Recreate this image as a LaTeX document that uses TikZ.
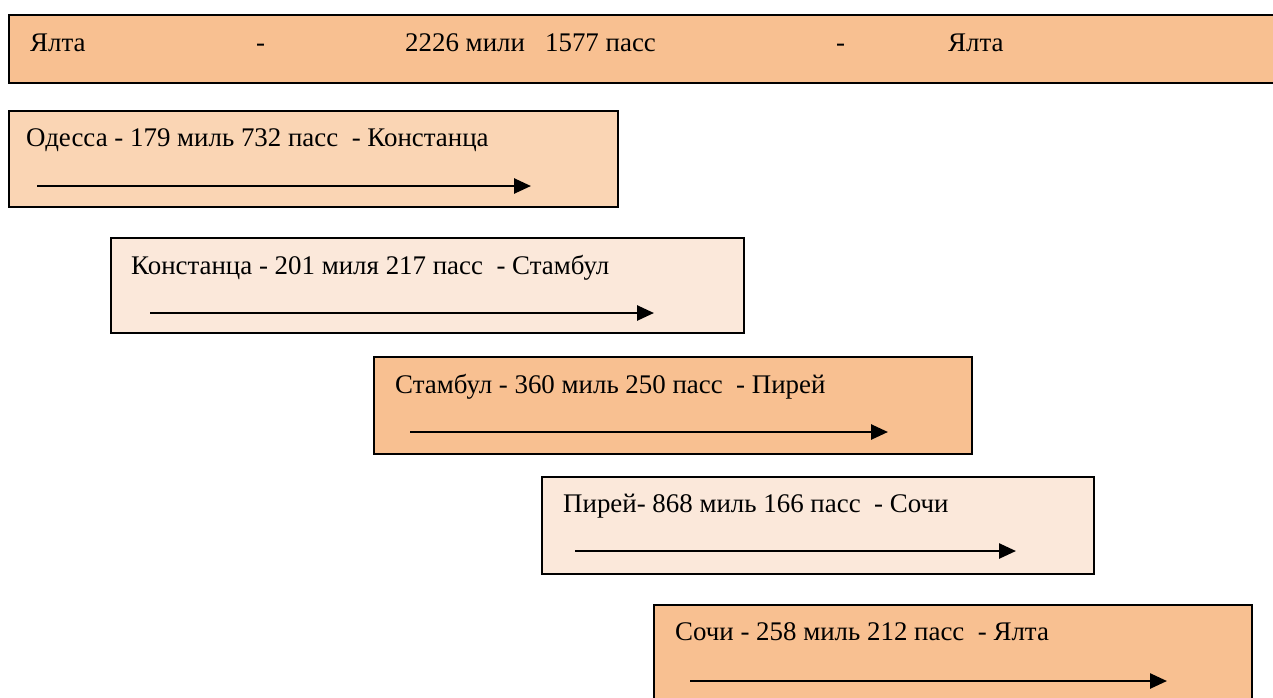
\documentclass[tikz,border=0pt]{standalone}
\usepackage{fontspec}
\setmainfont{Liberation Serif}
\usetikzlibrary{arrows.meta}
\definecolor{darkpeach}{RGB}{248,192,145}
\definecolor{midpeach}{RGB}{250,213,180}
\definecolor{lightpeach}{RGB}{251,232,218}
\tikzset{
  box/.style={draw=black, line width=2.4pt, anchor=north west, inner sep=0pt},
  lbl/.style={anchor=base west, inner sep=0pt, font=\fontsize{26.9}{32}\selectfont},
  route/.style={line width=2.6pt, -{Triangle[length=17pt,width=15pt]}},
}
\begin{document}
\begin{tikzpicture}[x=1pt,y=-1pt]
\useasboundingbox (0,0) rectangle (1273,697);
\clip (0,0) rectangle (1273,697);
% top bar
\node[box, fill=darkpeach, minimum width=1300pt, minimum height=68pt] (top) at (8,14) {};
\node[lbl] (t1) at (30,51) {Ялта};
\node[lbl] (t2) at (256,51) {-};
\node[lbl] (t3) at (405,51) {2226 мили \ \ 1577 пасс};
\node[lbl] (t4) at (836,51) {-};
\node[lbl] (t5) at (948,51) {Ялта};
% box 1
\node[box, fill=midpeach, minimum width=609pt, minimum height=96pt] (b1) at (8,110) {};
\node[lbl] (l1) at (26,146) {Одесса - 179 миль 732 пасс \ - Констанца};
\coordinate (s1) at (37,186); \coordinate (e1) at (531,186);
\draw[route] (s1) -- (e1);
% box 2
\node[box, fill=lightpeach, minimum width=633pt, minimum height=95pt] (b2) at (110,237) {};
\node[lbl] (l2) at (131,274) {Констанца - 201 миля 217 пасс \ - Стамбул};
\coordinate (s2) at (150,313); \coordinate (e2) at (654,313);
\draw[route] (s2) -- (e2);
% box 3
\node[box, fill=darkpeach, minimum width=598pt, minimum height=97pt] (b3) at (373,356) {};
\node[lbl] (l3) at (395,393) {Стамбул - 360 миль 250 пасс \ - Пирей};
\coordinate (s3) at (410,432); \coordinate (e3) at (888,432);
\draw[route] (s3) -- (e3);
% box 4
\node[box, fill=lightpeach, minimum width=552pt, minimum height=97pt] (b4) at (541,476) {};
\node[lbl] (l4) at (563,512) {Пирей- 868 миль 166 пасс \ - Сочи};
\coordinate (s4) at (575,551); \coordinate (e4) at (1016,551);
\draw[route] (s4) -- (e4);
% box 5
\node[box, fill=darkpeach, minimum width=598pt, minimum height=110pt] (b5) at (653,604) {};
\node[lbl] (l5) at (675,640) {Сочи - 258 миль 212 пасс \ - Ялта};
\coordinate (s5) at (690,681); \coordinate (e5) at (1167,681);
\draw[route] (s5) -- (e5);
\end{tikzpicture}
\end{document}
